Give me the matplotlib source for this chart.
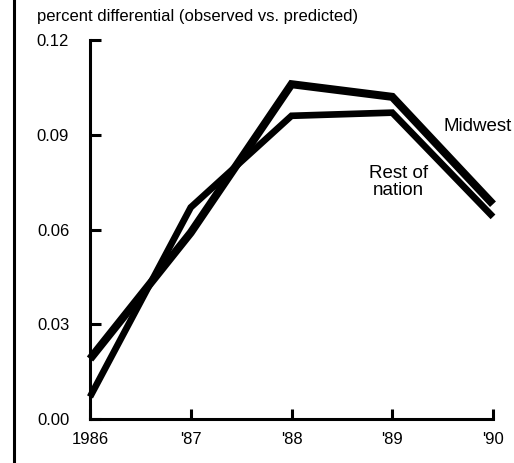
import matplotlib
matplotlib.use("Agg")
import matplotlib.pyplot as plt
from matplotlib.lines import Line2D

plt.rcParams['font.family'] = ['Liberation Sans', 'DejaVu Sans']

# data
years = [1986, 1987, 1988, 1989, 1990]
year_labels = ['1986', "'87", "'88", "'89", "'90"]
midwest = [0.019, 0.059, 0.106, 0.102, 0.068]
rest_of_nation = [0.007, 0.067, 0.096, 0.097, 0.064]
y_ticks = [0.00, 0.03, 0.06, 0.09, 0.12]
y_labels = ['0.00', '0.03', '0.06', '0.09', '0.12']

fig = plt.figure(figsize=(5.14, 4.63), dpi=100)
ax = fig.add_axes([90 / 514, 1 - 419 / 463, 403 / 514, 379 / 463])

ax.plot(years, midwest, color='black', lw=5.8, solid_capstyle='butt',
        solid_joinstyle='miter', clip_on=False)
ax.plot(years, rest_of_nation, color='black', lw=4.8, solid_capstyle='butt',
        solid_joinstyle='miter', clip_on=False)

ax.set_xlim(1986, 1990)
ax.set_ylim(0, 0.12)
ax.set_xticks(years)
ax.set_xticklabels(year_labels)
ax.set_yticks(y_ticks)
ax.set_yticklabels(y_labels)

for side in ['top', 'right']:
    ax.spines[side].set_visible(False)
for side in ['left', 'bottom']:
    ax.spines[side].set_linewidth(2.2)

ax.tick_params(axis='y', direction='in', length=8, width=2.2, pad=15, labelsize=12)
ax.tick_params(axis='x', direction='in', length=7, width=2.2, pad=9, labelsize=12)

ax.text(1989.85, 0.0925, 'Midwest', fontsize=13.5, ha='center', va='center')
ax.text(1989.06, 0.075, 'Rest of\nnation', fontsize=13.5, ha='center', va='center',
        linespacing=0.95)

fig.text(37 / 514, 1 - 17 / 463, 'percent differential (observed vs. predicted)',
         fontsize=12, ha='left', va='center')

# scanned page border on the left
fig.add_artist(Line2D([14 / 514, 14 / 514], [0, 1], color='black', lw=2.2))

fig.savefig('out.png', dpi=100)
